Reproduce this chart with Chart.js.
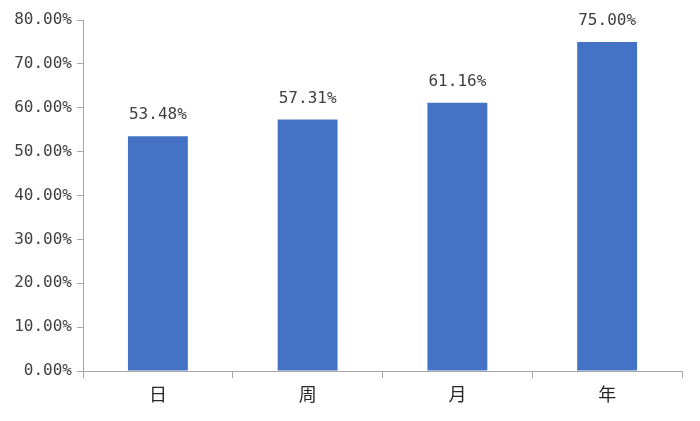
<!DOCTYPE html>
<html><head><meta charset="utf-8">
<script src="https://cdn.jsdelivr.net/npm/chart.js@4"></script>
<style>html,body{margin:0;padding:0;background:#fff}#w{width:700px;height:421px}</style>
</head><body><div id="w"><canvas id="c"></canvas></div>
<script>
const categories = ['日', '周', '月', '年'];
const values = [53.48, 57.31, 61.16, 75.00];
const yTicks = [0, 10, 20, 30, 40, 50, 60, 70, 80];

const fmt = v => v.toFixed(2) + '%';
const NUMFONT = "'DejaVu Sans Mono', 'Liberation Mono', monospace";
const CJKFONT = "'Noto Sans CJK JP', 'Noto Sans CJK SC', sans-serif";

const labelPlugin = {
  id: 'barLabels',
  afterDatasetsDraw(chart) {
    const ctx = chart.ctx;
    const meta = chart.getDatasetMeta(0);
    ctx.save();
    ctx.font = "16px " + NUMFONT;
    ctx.fillStyle = '#404040';
    ctx.textAlign = 'center';
    ctx.textBaseline = 'alphabetic';
    meta.data.forEach((bar, i) => {
      ctx.fillText(fmt(values[i]), bar.x, bar.y - 17);
    });
    ctx.restore();
  }
};

new Chart(document.getElementById('c'), {
  type: 'bar',
  data: {
    labels: categories,
    datasets: [{
      data: values,
      backgroundColor: '#4472C4',
      borderWidth: 0,
      categoryPercentage: 1.0,
      barPercentage: 0.4
    }]
  },
  options: {
    responsive: true,
    maintainAspectRatio: false,
    animation: false,
    devicePixelRatio: 1,
    layout: { padding: { top: 20, right: 18, left: 0, bottom: 0 } },
    plugins: { legend: { display: false }, tooltip: { enabled: false } },
    scales: {
      x: {
        afterFit: s => { s.height = 50; },
        grid: { drawOnChartArea: false, drawTicks: true, tickLength: 7, color: '#a6a6a6', offset: true },
        border: { color: '#a6a6a6', width: 1 },
        ticks: { color: '#262626', font: { size: 18, family: CJKFONT }, padding: 5 }
      },
      y: {
        min: 0, max: 80,
        afterFit: s => { s.width = 83; },
        afterBuildTicks: axis => { axis.ticks = yTicks.map(v => ({ value: v })); },
        grid: { drawOnChartArea: false, drawTicks: true, tickLength: 6, color: '#a6a6a6' },
        border: { color: '#a6a6a6', width: 1 },
        ticks: { color: '#404040', font: { size: 16, family: NUMFONT }, padding: 5, callback: v => fmt(v) }
      }
    }
  },
  plugins: [labelPlugin]
});
</script></body></html>
